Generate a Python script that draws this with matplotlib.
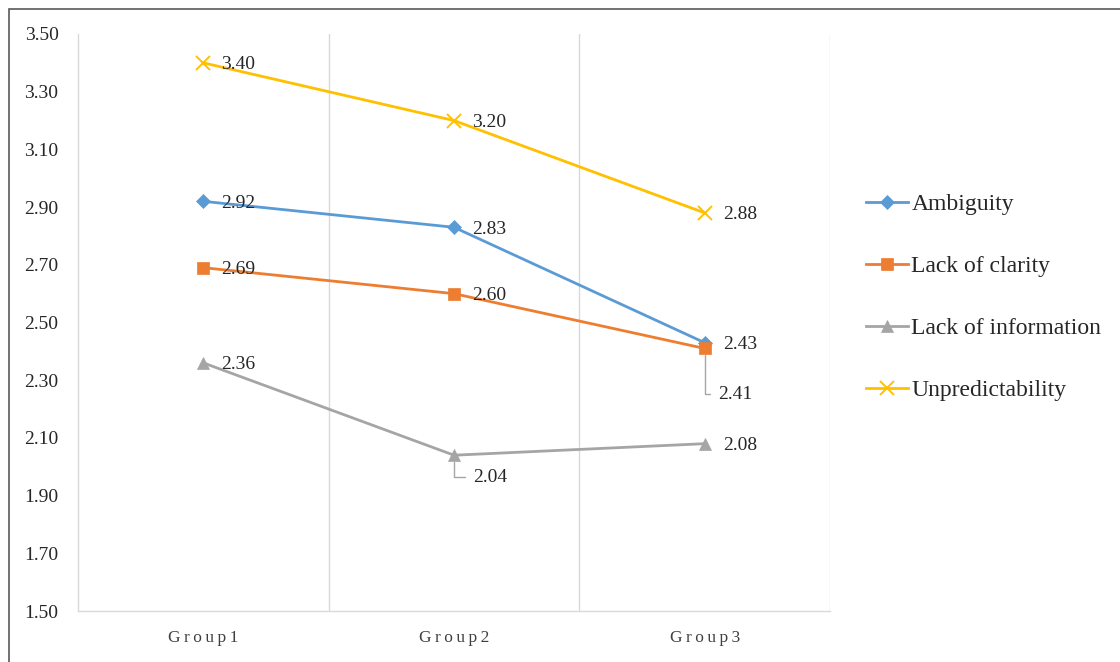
import matplotlib
matplotlib.use("Agg")
import matplotlib.pyplot as plt
from matplotlib.patches import Rectangle

plt.rcParams['font.family'] = ['Liberation Serif', 'DejaVu Serif']

categories = ["Group1", "Group2", "Group3"]
series_names = ["Ambiguity", "Lack of clarity", "Lack of information", "Unpredictability"]
ambiguity = [2.92, 2.83, 2.43]
lack_clarity = [2.69, 2.60, 2.41]
lack_info = [2.36, 2.04, 2.08]
unpredictability = [3.40, 3.20, 2.88]
y_ticks = [1.50, 1.70, 1.90, 2.10, 2.30, 2.50, 2.70, 2.90, 3.10, 3.30, 3.50]

series = [ambiguity, lack_clarity, lack_info, unpredictability]
colors = ["#5B9BD5", "#ED7D31", "#A5A5A5", "#FFC000"]
markers = ["D", "s", "^", "x"]
msizes = [7.5, 8.5, 9, 10]

fig = plt.figure(figsize=(11.2, 6.62), dpi=100)
ax = fig.add_axes([78/1120, 1-611/662, 752/1120, (611-34)/662])

# outer border
fig.patches.append(Rectangle((9/1120, -0.01), 1.2, 1-9/662+0.01, transform=fig.transFigure,
                             fill=False, edgecolor="#595959", linewidth=1.2))

x = list(range(len(categories)))
for vals, c, m, ms, name in zip(series, colors, markers, msizes, series_names):
    ax.plot(x, vals, color=c, lw=2, marker=m, markersize=ms,
            markeredgewidth=1.4 if m == "x" else 0.5, markeredgecolor=c,
            markerfacecolor=c, label=name, zorder=3)

# data labels
special = {(1, 2): (10, -33), (2, 1): (14, -16)}
for si, vals in enumerate(series):
    for xi, v in enumerate(vals):
        if (si, xi) in special:
            dx, dy = special[(si, xi)]
            ax.annotate(f"{v:.2f}", xy=(xi, v), xytext=(dx, dy), textcoords="offset points",
                        ha="left", va="center", fontsize=14, color="#262626",
                        arrowprops=dict(arrowstyle="-", color="#A6A6A6", lw=1,
                                        connectionstyle="angle,angleA=0,angleB=90,rad=0",
                                        relpos=(0, 0.5), shrinkA=4, shrinkB=5))
        else:
            ax.annotate(f"{v:.2f}", xy=(xi, v), xytext=(13, -1.5), textcoords="offset points",
                        ha="left", va="center", fontsize=14, color="#262626", zorder=4)

ax.set_xlim(-0.5, 2.5)
ax.set_ylim(1.5, 3.5)
ax.set_yticks(y_ticks)
ax.set_yticklabels([f"{t:.2f}" for t in y_ticks], fontsize=14, color="#262626")
ax.set_xticks(x)
ax.set_xticklabels(["\u2009".join(c) for c in categories], fontsize=12.5, color="#404040")
ax.tick_params(axis="both", length=0)
ax.tick_params(axis="y", pad=14)
ax.tick_params(axis="x", pad=14)

for xb in [0.5, 1.5, 2.5]:
    ax.axvline(xb, color="#D9D9D9", lw=1, zorder=0)
for s in ["top", "right"]:
    ax.spines[s].set_visible(False)
ax.spines["left"].set_color("#D9D9D9")
ax.spines["bottom"].set_color("#D9D9D9")
ax.spines["left"].set_linewidth(1)
ax.spines["bottom"].set_linewidth(1)

leg = fig.legend(loc="upper left", bbox_to_anchor=(857/1120, 1-184/662), frameon=False,
                 fontsize=17, labelspacing=1.72, handlelength=1.75, handletextpad=0.15,
                 borderaxespad=0)
for t in leg.get_texts():
    t.set_color("#262626")

fig.savefig("out.png", dpi=100)
